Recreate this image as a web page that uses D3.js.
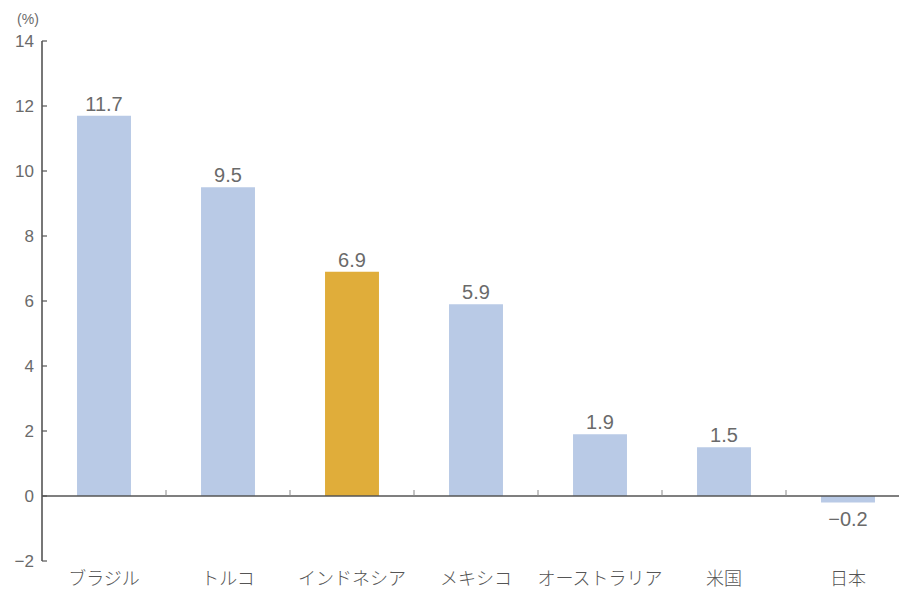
<!DOCTYPE html>
<html>
<head>
<meta charset="utf-8">
<script src="https://cdn.jsdelivr.net/npm/d3@7"></script>
<style>
  html, body { margin: 0; padding: 0; background: #fff; }
  svg { display: block; }
</style>
</head>
<body>
<svg id="chart" width="899" height="590"></svg>
<script>
// Growth rates by country (%)
const countries = ["ブラジル", "トルコ", "インドネシア", "メキシコ", "オーストラリア", "米国", "日本"];
const values = [11.7, 9.5, 6.9, 5.9, 1.9, 1.5, -0.2];
const highlight = ["インドネシア"];
const yTicks = [-2, 0, 2, 4, 6, 8, 10, 12, 14];

const svg = d3.select("#chart");
const plotLeft = 42, plotRight = 910, plotTop = 41, plotBottom = 561;

const y = d3.scaleLinear().domain([-2, 14]).range([plotBottom, plotTop]);
// bands for axis separators, bars sit in the middle of each
const band = d3.scaleBand().domain(countries).range([plotLeft, plotRight]).padding(0);
const x = d3.scaleBand().domain(countries).range([plotLeft, plotRight])
  .paddingInner(0.565).paddingOuter(0.2825);

const numFont = "'Liberation Sans', Arial, sans-serif";
const jpFont = "'Noto Sans CJK JP', sans-serif";

// bars
svg.append("g").selectAll("rect").data(values).join("rect")
  .attr("x", (d, i) => x(countries[i]))
  .attr("width", x.bandwidth())
  .attr("y", d => y(Math.max(0, d)))
  .attr("height", d => Math.abs(y(d) - y(0)))
  .attr("fill", (d, i) => highlight.includes(countries[i]) ? "#e0ad3a" : "#b9cae6");

// value labels
svg.append("g").selectAll("text").data(values).join("text")
  .attr("x", (d, i) => x(countries[i]) + x.bandwidth() / 2)
  .attr("y", d => d >= 0 ? y(d) - 5 : y(d) + 23)
  .attr("text-anchor", "middle")
  .attr("font-family", numFont)
  .attr("font-size", 20)
  .attr("fill", "#6a6a6a")
  .text(d => d < 0 ? "\u2212" + Math.abs(d).toFixed(1) : d.toFixed(1));

// y axis
const yAxis = svg.append("g");
yAxis.append("line")
  .attr("x1", plotLeft).attr("x2", plotLeft)
  .attr("y1", y(-2)).attr("y2", y(14))
  .attr("stroke", "#555").attr("stroke-width", 1.6);
yAxis.selectAll("line.tick").data(yTicks).join("line")
  .attr("class", "tick")
  .attr("x1", plotLeft).attr("x2", plotLeft + 5)
  .attr("y1", d => y(d)).attr("y2", d => y(d))
  .attr("stroke", "#555").attr("stroke-width", 1.2);
yAxis.selectAll("text").data(yTicks).join("text")
  .attr("x", 34)
  .attr("y", d => y(d) + 6)
  .attr("text-anchor", "end")
  .attr("font-family", numFont)
  .attr("font-size", 17)
  .attr("fill", "#6a6a6a")
  .text(d => d < 0 ? "\u2212" + Math.abs(d) : d);

svg.append("text")
  .attr("x", 28).attr("y", 24)
  .attr("text-anchor", "middle")
  .attr("font-family", numFont)
  .attr("font-size", 14)
  .attr("fill", "#6a6a6a")
  .text("(%)");

// x axis at zero
const xAxis = svg.append("g");
xAxis.append("line")
  .attr("x1", plotLeft).attr("x2", 899)
  .attr("y1", y(0)).attr("y2", y(0))
  .attr("stroke", "#555").attr("stroke-width", 1.6);
xAxis.selectAll("line.sep").data(countries.slice(1)).join("line")
  .attr("class", "sep")
  .attr("x1", d => band(d)).attr("x2", d => band(d))
  .attr("y1", y(0)).attr("y2", y(0) - 6)
  .attr("stroke", "#888").attr("stroke-width", 1);

// category labels
svg.append("g").selectAll("text").data(countries).join("text")
  .attr("x", d => band(d) + band.bandwidth() / 2)
  .attr("y", 585)
  .attr("text-anchor", "middle")
  .attr("font-family", jpFont)
  .attr("font-size", 18)
  .attr("font-weight", 300)
  .attr("fill", "#555")
  .text(d => d);
</script>
</body>
</html>
